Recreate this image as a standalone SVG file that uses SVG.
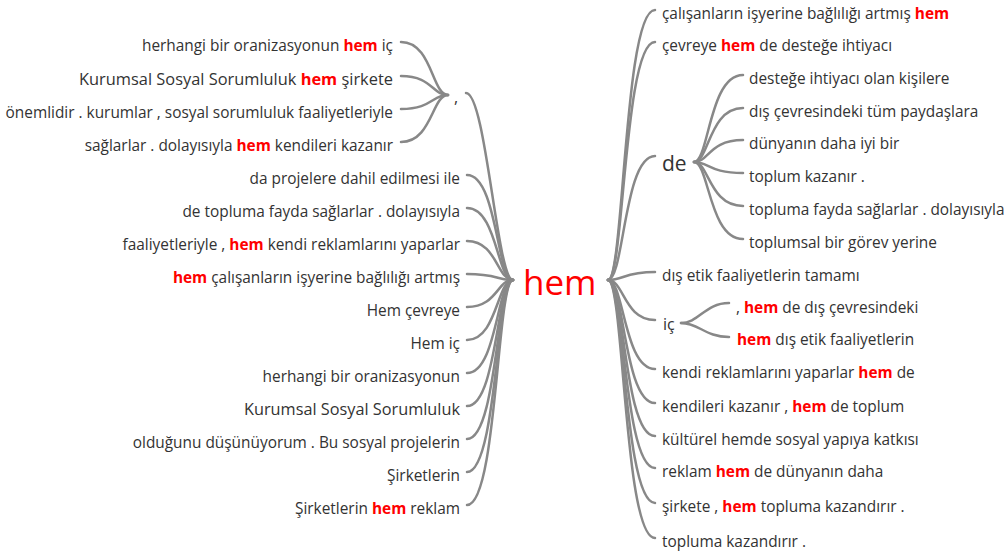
<svg xmlns="http://www.w3.org/2000/svg" width="1008" height="551" viewBox="0 0 1008 551">
<style>
text{font-family:"Open Sans","Noto Sans","DejaVu Sans",sans-serif;font-size:15.4px;fill:#333}
.r{text-anchor:end}
.h{fill:#f00;font-weight:bold}
.root{font-size:35px;fill:#f00}
.mid{font-size:21px}
.c{fill:none;stroke:#888;stroke-width:2.5;stroke-linecap:round}
</style>
<rect width="1008" height="551" fill="#fff"/>
<g id="connectors" class="c">
<path d="M466 93C486 93 497 280 513 280"/>
<path d="M401 42C432 42 432 95 448 95"/>
<path d="M401 76C432 76 432 95 448 95"/>
<path d="M401 109C432 109 432 95 448 95"/>
<path d="M401 142C432 142 432 95 448 95"/>
<path d="M467 175C497 175 497 280 513 280"/>
<path d="M467 208C497 208 497 280 513 280"/>
<path d="M467 241C497 241 497 280 513 280"/>
<path d="M467 274C497 274 497 280 513 280"/>
<path d="M467 307C497 307 497 280 513 280"/>
<path d="M467 340C497 340 497 280 513 280"/>
<path d="M467 373C497 373 497 280 513 280"/>
<path d="M467 406C497 406 497 280 513 280"/>
<path d="M467 439C497 439 497 280 513 280"/>
<path d="M467 472C497 472 497 280 513 280"/>
<path d="M467 505C497 505 497 280 513 280"/>
<path d="M608 280C624 280 624 10 655 10"/>
<path d="M608 280C624 280 624 42 655 42"/>
<path d="M608 280C624 280 624 156 655 156"/>
<path d="M608 280C624 280 624 272 655 272"/>
<path d="M608 280C624 280 624 320 655 320"/>
<path d="M608 280C624 280 624 369 655 369"/>
<path d="M608 280C624 280 624 403 655 403"/>
<path d="M608 280C624 280 624 436 655 436"/>
<path d="M608 280C624 280 624 468 655 468"/>
<path d="M608 280C624 280 624 503 655 503"/>
<path d="M608 280C624 280 624 538 655 538"/>
<path d="M694 162C709 162 709 75 743 75"/>
<path d="M694 162C709 162 709 108 743 108"/>
<path d="M694 162C709 162 709 140 743 140"/>
<path d="M694 162C709 162 709 173 743 173"/>
<path d="M694 162C709 162 709 206 743 206"/>
<path d="M694 162C709 162 709 239 743 239"/>
<path d="M681 323C699 323 705 303 729 303"/>
<path d="M681 323C699 323 705 337 729 337"/>
</g>
<g id="root"><text class="root" x="523" y="295">hem</text></g>
<g id="comma"><text x="454" y="103" style="font-size:16px">,</text></g>
<g id="l1"><text class="r" x="393" y="51">herhangi bir oranizasyonun <tspan class="h">hem</tspan> iç</text></g>
<g id="l2"><text class="r" x="393" y="85" textLength="314" lengthAdjust="spacingAndGlyphs">Kurumsal Sosyal Sorumluluk <tspan class="h">hem</tspan> şirkete</text></g>
<g id="l3"><text class="r" x="393" y="118">önemlidir . kurumlar , sosyal sorumluluk faaliyetleriyle</text></g>
<g id="l4"><text class="r" x="393" y="151">sağlarlar . dolayısıyla <tspan class="h">hem</tspan> kendileri kazanır</text></g>
<g id="l5"><text class="r" x="460" y="184">da projelere dahil edilmesi ile</text></g>
<g id="l6"><text class="r" x="460" y="217">de topluma fayda sağlarlar . dolayısıyla</text></g>
<g id="l7"><text class="r" x="460" y="250">faaliyetleriyle , <tspan class="h">hem</tspan> kendi reklamlarını yaparlar</text></g>
<g id="l8"><text class="r" x="460" y="283"><tspan class="h">hem</tspan> çalışanların işyerine bağlılığı artmış</text></g>
<g id="l9"><text class="r" x="460" y="316">Hem çevreye</text></g>
<g id="l10"><text class="r" x="460" y="349">Hem iç</text></g>
<g id="l11"><text class="r" x="460" y="382">herhangi bir oranizasyonun</text></g>
<g id="l12"><text class="r" x="460" y="415" textLength="216" lengthAdjust="spacingAndGlyphs">Kurumsal Sosyal Sorumluluk</text></g>
<g id="l13"><text class="r" x="460" y="448">olduğunu düşünüyorum . Bu sosyal projelerin</text></g>
<g id="l14"><text class="r" x="460" y="481">Şirketlerin</text></g>
<g id="l15"><text class="r" x="460" y="514">Şirketlerin <tspan class="h">hem</tspan> reklam</text></g>
<g id="r1"><text x="662" y="19">çalışanların işyerine bağlılığı artmış <tspan class="h">hem</tspan></text></g>
<g id="r2"><text x="662" y="51">çevreye <tspan class="h">hem</tspan> de desteğe ihtiyacı</text></g>
<g id="de"><text class="mid" x="662" y="171">de</text></g>
<g id="de1"><text x="749" y="84">desteğe ihtiyacı olan kişilere</text></g>
<g id="de2"><text x="749" y="117">dış çevresindeki tüm paydaşlara</text></g>
<g id="de3"><text x="749" y="149">dünyanın daha iyi bir</text></g>
<g id="de4"><text x="749" y="182">toplum kazanır .</text></g>
<g id="de5"><text x="749" y="215">topluma fayda sağlarlar . dolayısıyla</text></g>
<g id="de6"><text x="749" y="248">toplumsal bir görev yerine</text></g>
<g id="r3"><text x="662" y="281">dış etik faaliyetlerin tamamı</text></g>
<g id="ic"><text x="663" y="330" style="font-size:16px">iç</text></g>
<g id="ic1"><text x="736" y="313">, <tspan class="h">hem</tspan> de dış çevresindeki</text></g>
<g id="ic2"><text x="737" y="345"><tspan class="h">hem</tspan> dış etik faaliyetlerin</text></g>
<g id="r4"><text x="662" y="378">kendi reklamlarını yaparlar <tspan class="h">hem</tspan> de</text></g>
<g id="r5"><text x="662" y="412">kendileri kazanır , <tspan class="h">hem</tspan> de toplum</text></g>
<g id="r6"><text x="662" y="445">kültürel hemde sosyal yapıya katkısı</text></g>
<g id="r7"><text x="662" y="477">reklam <tspan class="h">hem</tspan> de dünyanın daha</text></g>
<g id="r8"><text x="662" y="512">şirkete , <tspan class="h">hem</tspan> topluma kazandırır .</text></g>
<g id="r9"><text x="662" y="547">topluma kazandırır .</text></g>
</svg>
